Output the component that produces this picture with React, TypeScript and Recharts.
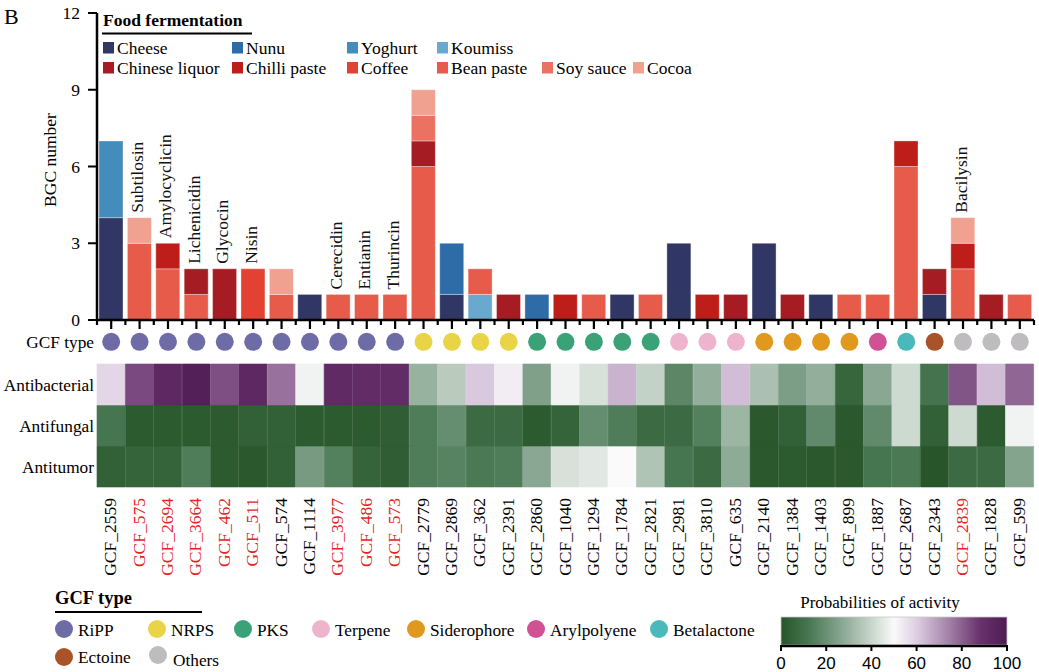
import React from 'react';
import { ComposedChart, Bar, XAxis, YAxis, Line, LabelList, Scatter, Cell } from 'recharts';

// ---------------- DATA ----------------
const gcfIds = [
  'GCF_2559', 'GCF_575', 'GCF_2694', 'GCF_3664', 'GCF_462', 'GCF_511', 'GCF_574', 'GCF_1114',
  'GCF_3977', 'GCF_486', 'GCF_573', 'GCF_2779', 'GCF_2869', 'GCF_362', 'GCF_2391', 'GCF_2860',
  'GCF_1040', 'GCF_1294', 'GCF_1784', 'GCF_2821', 'GCF_2981', 'GCF_3810', 'GCF_635', 'GCF_2140',
  'GCF_1384', 'GCF_1403', 'GCF_899', 'GCF_1887', 'GCF_2687', 'GCF_2343', 'GCF_2839', 'GCF_1828', 'GCF_599',
];

const compounds = [
  '', 'Subtilosin', 'Amylocyclicin', 'Lichenicidin', 'Glycocin', 'Nisin', '', '',
  'Cerecidin', 'Entianin', 'Thurincin', '', '', '', '', '',
  '', '', '', '', '', '', '', '',
  '', '', '', '', '', '', 'Bacilysin', '', '',
];

const gcfTypes = [
  'RiPP', 'RiPP', 'RiPP', 'RiPP', 'RiPP', 'RiPP', 'RiPP', 'RiPP',
  'RiPP', 'RiPP', 'RiPP', 'NRPS', 'NRPS', 'NRPS', 'NRPS', 'PKS',
  'PKS', 'PKS', 'PKS', 'PKS', 'Terpene', 'Terpene', 'Terpene', 'Siderophore',
  'Siderophore', 'Siderophore', 'Siderophore', 'Arylpolyene', 'Betalactone', 'Ectoine', 'Others', 'Others', 'Others',
];

// BGC counts per food source (one value per GCF)
const cheese        = [4,0,0,0,0,0,0,1,0,0,0,0,1,0,0,0,0,0,1,0,3,0,0,3,0,1,0,0,0,1,0,0,0];
const nunu          = [0,0,0,0,0,0,0,0,0,0,0,0,2,0,0,1,0,0,0,0,0,0,0,0,0,0,0,0,0,0,0,0,0];
const yoghurt       = [3,0,0,0,0,0,0,0,0,0,0,0,0,0,0,0,0,0,0,0,0,0,0,0,0,0,0,0,0,0,0,0,0];
const koumiss       = [0,0,0,0,0,0,0,0,0,0,0,0,0,1,0,0,0,0,0,0,0,0,0,0,0,0,0,0,0,0,0,0,0];
const beanPaste     = [0,3,2,1,0,0,1,0,1,1,1,6,0,1,0,0,0,1,0,1,0,0,0,0,0,0,1,1,6,0,2,0,1];
const coffee        = [0,0,0,0,0,2,0,0,0,0,0,0,0,0,0,0,0,0,0,0,0,0,0,0,0,0,0,0,0,0,0,0,0];
const chineseLiquor = [0,0,0,1,2,0,0,0,0,0,0,1,0,0,1,0,0,0,0,0,0,0,1,0,1,0,0,0,0,1,0,1,0];
const chilliPaste   = [0,0,1,0,0,0,0,0,0,0,0,0,0,0,0,0,1,0,0,0,0,1,0,0,0,0,0,0,1,0,1,0,0];
const soySauce      = [0,0,0,0,0,0,0,0,0,0,0,1,0,0,0,0,0,0,0,0,0,0,0,0,0,0,0,0,0,0,0,0,0];
const cocoa         = [0,1,0,0,0,0,1,0,0,0,0,1,0,0,0,0,0,0,0,0,0,0,0,0,0,0,0,0,0,0,1,0,0];

// stacking order (bottom -> top)
const stackOrder = ['Cheese', 'Nunu', 'Yoghurt', 'Koumiss', 'Bean paste', 'Coffee', 'Chinese liquor', 'Chilli paste', 'Soy sauce', 'Cocoa'];
// legend order
const legendOrder = ['Cheese', 'Nunu', 'Yoghurt', 'Koumiss', 'Chinese liquor', 'Chilli paste', 'Coffee', 'Bean paste', 'Soy sauce', 'Cocoa'];

// predicted probabilities of activity (0-100)
const antibacterial = [58,84,93,98,83,93,77,48,92,91,91,30,37,61,53,25,48,43,65,39,17,29,63,34,24,29,6,27,41,11,82,63,79];
const antifungal    = [12,2,2,2,2,4,4,2,2,2,3,14,19,8,8,2,5,19,14,8,8,15,31,1,4,18,1,18,41,4,41,2,48];
const antitumor     = [4,5,5,14,2,1,4,23,15,5,3,14,16,13,14,27,43,45,50,35,12,8,28,1,2,1,1,12,13,0,8,8,26];

const rowNames = ['Antitumor', 'Antifungal', 'Antibacterial', 'GCF type'];
const typeNames = ['RiPP', 'NRPS', 'PKS', 'Terpene', 'Siderophore', 'Arylpolyene', 'Betalactone', 'Ectoine', 'Others'];
const yTicks = [0, 3, 6, 9, 12];
const colorbarTicks = [0, 20, 40, 60, 80, 100];

// ---------------- STYLE ----------------
const SERIF = "'Liberation Serif', 'Times New Roman', Times, serif";
const SANS = "'Liberation Sans', Arial, sans-serif";
const RED = '#e3231f';

const foodColors: Record<string, string> = {
  'Cheese': '#313765',
  'Nunu': '#2e6ca8',
  'Yoghurt': '#438cbc',
  'Koumiss': '#6aa9cf',
  'Chinese liquor': '#a51c22',
  'Chilli paste': '#be1e1a',
  'Coffee': '#e34132',
  'Bean paste': '#e65b4a',
  'Soy sauce': '#eb7162',
  'Cocoa': '#f0a190',
};

const typeColors: Record<string, string> = {
  RiPP: '#6e6ca7',
  NRPS: '#e9d448',
  PKS: '#3aa276',
  Terpene: '#efb4cd',
  Siderophore: '#e0991e',
  Arylpolyene: '#d05294',
  Betalactone: '#4ab9bb',
  Ectoine: '#a85428',
  Others: '#bebcbf',
};

const cmapStops: [number, number[]][] = [
  [0, [40, 85, 42]],
  [12, [70, 118, 80]],
  [25, [128, 160, 138]],
  [40, [200, 214, 203]],
  [50, [250, 250, 250]],
  [60, [221, 206, 226]],
  [75, [160, 125, 165]],
  [88, [105, 50, 110]],
  [100, [78, 28, 82]],
];

function heatColor(v: number): string {
  for (let i = 0; i < cmapStops.length - 1; i++) {
    const [a, ca] = cmapStops[i];
    const [b, cb] = cmapStops[i + 1];
    if (v <= b) {
      const t = Math.max(0, (v - a) / (b - a));
      const c = ca.map((x, k) => Math.round(x + (cb[k] - x) * t));
      return `rgb(${c[0]},${c[1]},${c[2]})`;
    }
  }
  const c = cmapStops[cmapStops.length - 1][1];
  return `rgb(${c[0]},${c[1]},${c[2]})`;
}

// ---------------- TABLES ----------------
const foodSeries: Record<string, number[]> = {
  'Cheese': cheese,
  'Nunu': nunu,
  'Yoghurt': yoghurt,
  'Koumiss': koumiss,
  'Bean paste': beanPaste,
  'Coffee': coffee,
  'Chinese liquor': chineseLiquor,
  'Chilli paste': chilliPaste,
  'Soy sauce': soySauce,
  'Cocoa': cocoa,
};

const barData = gcfIds.map((g, i) => {
  const row: Record<string, any> = { gcf: g, compound: compounds[i] };
  let total = 0;
  stackOrder.forEach((n) => {
    row[n] = foodSeries[n][i];
    total += foodSeries[n][i];
  });
  row.total = total;
  return row;
});

const DOT_ROW = 3.54;
const rowTicks = [0.5, 1.5, 2.5, DOT_ROW];

const heatData = gcfIds.map((g, i) => ({
  gcf: g,
  tumor: 1,
  fungal: 1,
  bact: 1,
  dot: DOT_ROW,
  type: gcfTypes[i],
}));

// ---------------- LAYOUT ----------------
const W = 1039;
const PLOT_LEFT = 97;
const PLOT_RIGHT_MARGIN = 5;
const BAND = (W - PLOT_LEFT - PLOT_RIGHT_MARGIN) / gcfIds.length;

const BarTick = (props: any) => {
  const { x, y, payload } = props;
  const idx = gcfIds.indexOf(payload.value);
  const half = BAND / 2;
  return (
    <g>
      <line x1={x} x2={x} y1={y} y2={y + 9} stroke="#000" strokeWidth={2.2} />
      <line x1={x + half} x2={x + half} y1={y} y2={y + 5} stroke="#000" strokeWidth={2.2} />
      {idx === 0 && <line x1={x - half} x2={x - half} y1={y} y2={y + 5} stroke="#000" strokeWidth={2.2} />}
    </g>
  );
};

const GcfTick = (props: any) => {
  const { x, y, payload } = props;
  const idx = gcfIds.indexOf(payload.value);
  const red = compounds[idx] !== '';
  const ty = y + 11;
  return (
    <text
      x={x}
      y={ty}
      dy={5}
      transform={`rotate(-90 ${x} ${ty})`}
      textAnchor="end"
      fontSize={17.5}
      fontFamily={SERIF}
      fill={red ? RED : '#000'}
    >
      {payload.value}
    </text>
  );
};

const BarLabel = (props: any) => {
  const { x, y, value } = props;
  if (!value) return null;
  const ty = y - 5;
  return (
    <text
      x={x}
      y={ty}
      dy={3.5}
      transform={`rotate(-90 ${x} ${ty})`}
      textAnchor="start"
      fontSize={17.5}
      fontFamily={SERIF}
      fill="#111"
    >
      {value}
    </text>
  );
};

const DotShape = (p: any) => (
  <circle cx={p.cx} cy={p.cy} r={9} fill={typeColors[p.payload.type]} />
);

const foodLegendPos: [number, number][] = [
  [103, 42], [232, 42], [347, 42], [437, 42],
  [103, 62], [232, 62], [347, 62], [437, 62], [542, 62], [633, 62],
];

const typeLegendPos: [number, number, number, number][] = [
  // cx, cy, text x offset, text baseline
  [64, 629, 14, 636],
  [157, 629, 14, 636],
  [243, 629, 14, 636],
  [321, 629, 14, 636],
  [416, 629, 14, 636],
  [536, 629, 14, 636],
  [659, 629, 14, 636],
  [64, 657, 14, 663],
  [158, 655, 15, 666],
];

const CB_X0 = 781;
const CB_X1 = 1007;
const CB_Y0 = 617;
const CB_Y1 = 645;

export default function App() {
  return (
    <div style={{ position: 'absolute', left: 0, top: 0, width: W, height: 672, background: '#fff' }}>
      {/* Bar chart */}
      <div style={{ position: 'absolute', left: 0, top: 0 }}>
        <ComposedChart
          width={W}
          height={335}
          data={barData}
          margin={{ top: 13, right: PLOT_RIGHT_MARGIN, bottom: 0, left: 0 }}
          barSize={24}
        >
          <XAxis
            dataKey="gcf"
            interval={0}
            tickSize={0}
            tickMargin={0}
            height={15}
            axisLine={{ stroke: '#000', strokeWidth: 2.5 }}
            tickLine={false}
            tick={<BarTick />}
          />
          <YAxis
            type="number"
            domain={[0, 12]}
            ticks={yTicks}
            interval={0}
            width={PLOT_LEFT}
            tickSize={9}
            tickMargin={8}
            axisLine={{ stroke: '#000', strokeWidth: 2.5 }}
            tickLine={{ stroke: '#000', strokeWidth: 2 }}
            tick={{ fontSize: 17.5, fill: '#000', fontFamily: SERIF }}
          />
          {stackOrder.map((n) => (
            <Bar
              key={n}
              dataKey={n}
              stackId="s"
              fill={foodColors[n]}
              stroke="#ffffff"
              strokeOpacity={0.35}
              strokeWidth={1}
              isAnimationActive={false}
            />
          ))}
          <Line
            dataKey="total"
            stroke="none"
            dot={false}
            activeDot={false}
            isAnimationActive={false}
            legendType="none"
          >
            <LabelList dataKey="compound" content={BarLabel} />
          </Line>
        </ComposedChart>
      </div>

      {/* GCF type dots + heatmap + GCF labels */}
      <div style={{ position: 'absolute', left: 0, top: 323 }}>
        <ComposedChart
          width={W}
          height={277}
          data={heatData}
          margin={{ top: 0, right: PLOT_RIGHT_MARGIN, bottom: 0, left: 0 }}
          barCategoryGap={0}
          barGap={0}
        >
          <XAxis
            dataKey="gcf"
            interval={0}
            tickSize={0}
            tickMargin={0}
            height={113}
            axisLine={false}
            tickLine={false}
            tick={<GcfTick />}
          />
          <YAxis
            type="number"
            domain={[0, 4]}
            ticks={rowTicks}
            interval={0}
            width={PLOT_LEFT}
            tickSize={0}
            tickMargin={3}
            axisLine={false}
            tickLine={false}
            tick={{ fontSize: 17.3, fill: '#000', fontFamily: SERIF }}
            tickFormatter={(v: number) => rowNames[rowTicks.indexOf(v)] ?? ''}
          />
          <Bar dataKey="tumor" stackId="h" isAnimationActive={false}>
            {antitumor.map((v, i) => (
              <Cell key={i} fill={heatColor(v)} stroke={heatColor(v)} strokeWidth={0.6} />
            ))}
          </Bar>
          <Bar dataKey="fungal" stackId="h" isAnimationActive={false}>
            {antifungal.map((v, i) => (
              <Cell key={i} fill={heatColor(v)} stroke={heatColor(v)} strokeWidth={0.6} />
            ))}
          </Bar>
          <Bar dataKey="bact" stackId="h" isAnimationActive={false}>
            {antibacterial.map((v, i) => (
              <Cell key={i} fill={heatColor(v)} stroke={heatColor(v)} strokeWidth={0.6} />
            ))}
          </Bar>
          <Scatter dataKey="dot" isAnimationActive={false} shape={DotShape} />
        </ComposedChart>
      </div>

      {/* Annotations and legends */}
      <svg
        width={W}
        height={672}
        style={{ position: 'absolute', left: 0, top: 0, pointerEvents: 'none' }}
      >
        <defs>
          <linearGradient id="cbar" x1="0" x2="1" y1="0" y2="0">
            {cmapStops.map(([v, c]) => (
              <stop key={v} offset={`${v}%`} stopColor={`rgb(${c[0]},${c[1]},${c[2]})`} />
            ))}
          </linearGradient>
        </defs>

        <text x={4} y={24} fontSize={22} fontFamily={SERIF} fill="#000">B</text>

        <text
          x={56}
          y={160}
          transform="rotate(-90 56 160)"
          textAnchor="middle"
          fontSize={17.5}
          fontFamily={SERIF}
          fill="#000"
        >
          BGC number
        </text>

        {/* Food fermentation legend */}
        <text x={103} y={26} fontSize={17.5} fontWeight="bold" fontFamily={SERIF} fill="#000">
          Food fermentation
        </text>
        <line x1={102} x2={252} y1={33.5} y2={33.5} stroke="#000" strokeWidth={1.8} />
        {legendOrder.map((n, i) => {
          const [lx, ly] = foodLegendPos[i];
          return (
            <g key={n}>
              <rect x={lx} y={ly} width={11} height={11.5} fill={foodColors[n]} />
              <text x={lx + 14} y={ly + 11.5} fontSize={17.5} fontFamily={SERIF} fill="#000">
                {n}
              </text>
            </g>
          );
        })}

        {/* GCF type legend */}
        <text x={55} y={604} fontSize={18.5} fontWeight="bold" fontFamily={SERIF} fill="#000">
          GCF type
        </text>
        <line x1={55} x2={202} y1={612} y2={612} stroke="#000" strokeWidth={1.8} />
        {typeNames.map((n, i) => {
          const [cx, cy, dx, by] = typeLegendPos[i];
          return (
            <g key={n}>
              <circle cx={cx} cy={cy} r={9} fill={typeColors[n]} />
              <text x={cx + dx} y={by} fontSize={17.3} fontFamily={SERIF} fill="#000">
                {n}
              </text>
            </g>
          );
        })}

        {/* Colour bar */}
        <text x={880} y={608} textAnchor="middle" fontSize={17} fontFamily={SERIF} fill="#000">
          Probabilities of activity
        </text>
        <rect
          x={CB_X0}
          y={CB_Y0}
          width={CB_X1 - CB_X0}
          height={CB_Y1 - CB_Y0}
          fill="url(#cbar)"
          stroke="#c8c8c8"
          strokeWidth={0.8}
        />
        <line x1={CB_X0} x2={CB_X1} y1={CB_Y1 + 1} y2={CB_Y1 + 1} stroke="#000" strokeWidth={2.5} />
        {colorbarTicks.map((t) => {
          const tx = CB_X0 + ((CB_X1 - CB_X0) * t) / 100;
          return (
            <g key={t}>
              <line x1={tx} x2={tx} y1={CB_Y1} y2={CB_Y1 + 6} stroke="#000" strokeWidth={2} />
              <text x={tx} y={669} textAnchor="middle" fontSize={17} fontFamily={SANS} fill="#000">
                {t}
              </text>
            </g>
          );
        })}
      </svg>
    </div>
  );
}
